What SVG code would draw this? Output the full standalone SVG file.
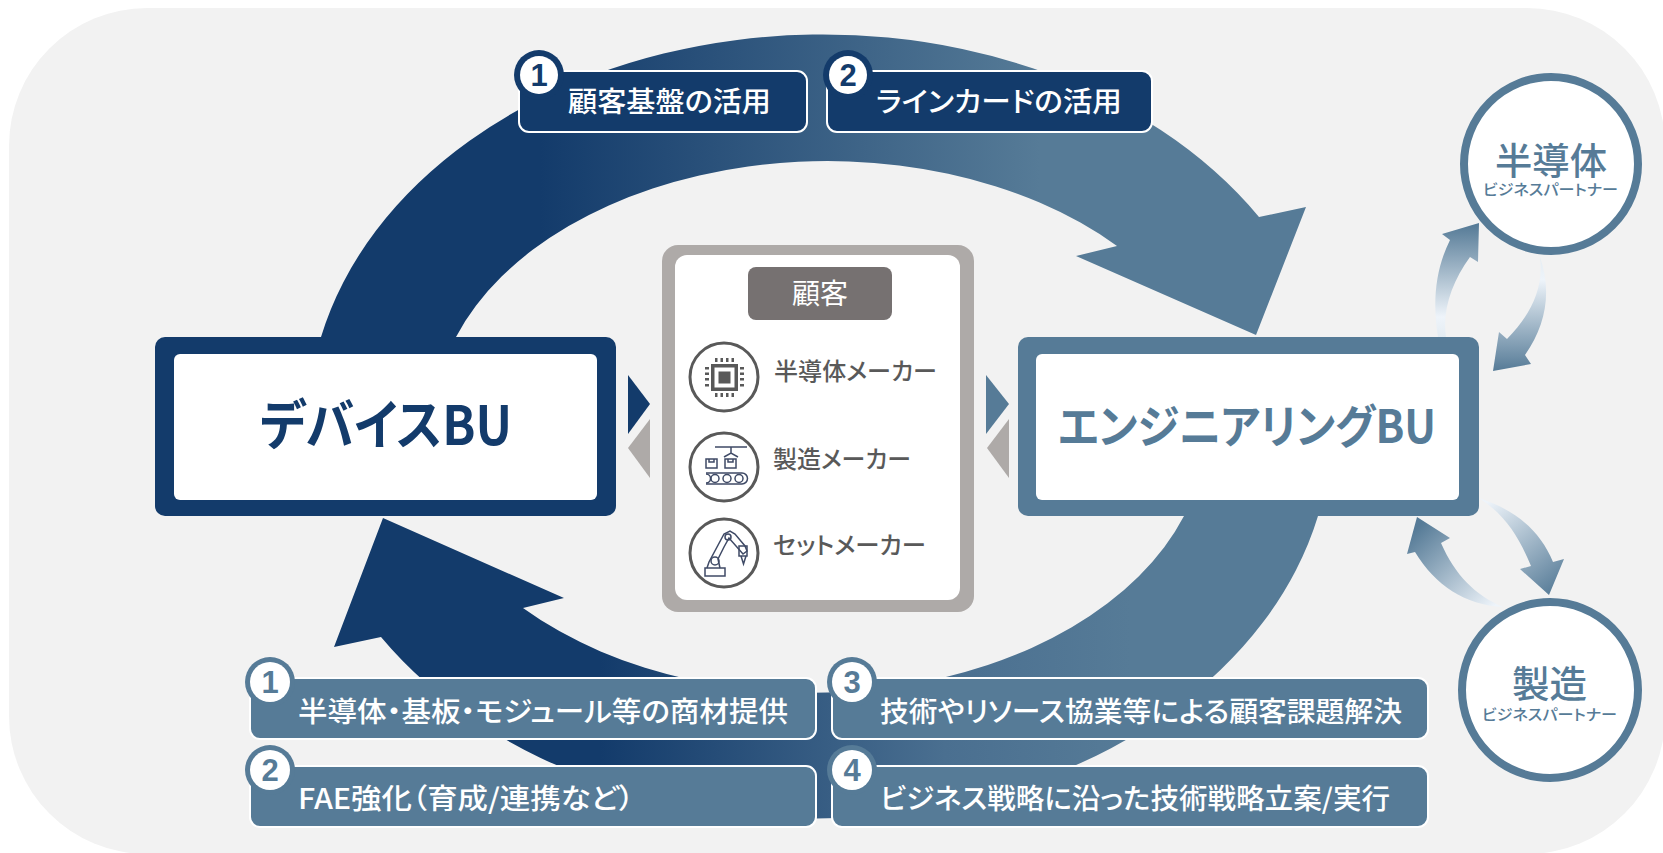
<svg xmlns="http://www.w3.org/2000/svg" width="1663" height="853" viewBox="0 0 1663 853">
<style>
text{font-family:"Noto Sans CJK JP","Noto Sans",sans-serif;font-feature-settings:"palt"}
.lab{font-size:28px;font-weight:500;fill:#fff}
.dig{font-size:31px;font-weight:700;text-anchor:middle;font-family:"Liberation Sans","Noto Sans",sans-serif}
.cust{font-size:24px;font-weight:500;fill:#595959}
.ring{fill:none;stroke:#595959;stroke-width:3}
.ico{fill:none;stroke:#3f4a66;stroke-width:1.5}
.dark{fill:#133b6b}
.steel{fill:#567b97}
.grey{fill:#aeaaa8}
.lb{stroke:#fff;stroke-width:2}
.title{font-weight:700}
.pn{font-weight:500;fill:#567b97}
</style>
<defs>
<linearGradient id="gTop" gradientUnits="userSpaceOnUse" x1="540" y1="0" x2="1040" y2="0"><stop offset="0" stop-color="#133b6b"/><stop offset="1" stop-color="#567b97"/></linearGradient>
<linearGradient id="gBot" gradientUnits="userSpaceOnUse" x1="600" y1="0" x2="1130" y2="0"><stop offset="0" stop-color="#133b6b"/><stop offset=".65" stop-color="#4a6f90"/><stop offset="1" stop-color="#567b97"/></linearGradient>
<linearGradient id="gA" gradientUnits="userSpaceOnUse" x1="0" y1="225" x2="0" y2="337"><stop offset="0" stop-color="#567b97"/><stop offset=".82" stop-color="#eef4fa"/><stop offset="1" stop-color="#e4ecf2"/></linearGradient>
<linearGradient id="gB" gradientUnits="userSpaceOnUse" x1="0" y1="371" x2="0" y2="257"><stop offset="0" stop-color="#567b97"/><stop offset=".8" stop-color="#eef4fa"/><stop offset="1" stop-color="#e4ecf2"/></linearGradient>
<linearGradient id="gC" gradientUnits="userSpaceOnUse" x1="1490" y1="500" x2="1560" y2="590"><stop offset="0" stop-color="#eef4fa"/><stop offset="1" stop-color="#567b97"/></linearGradient>
<linearGradient id="gD" gradientUnits="userSpaceOnUse" x1="1490" y1="610" x2="1415" y2="530"><stop offset="0" stop-color="#eef4fa"/><stop offset="1" stop-color="#567b97"/></linearGradient>
</defs>
<rect x="9" y="8" width="1656" height="846" rx="138" ry="138" fill="#f2f2f2"/>
<g id="connectors">
<path fill="url(#gTop)" d="M321 337A515 390 0 0 1 1259 217L1306 207L1256 335L1076 256L1117 246A394 264 0 0 0 456 337Z"/>
<path fill="url(#gBot)" d="M1318 516A515 390 0 0 1 381 637L334 647L383 518L564 598L523 608A394 264 0 0 0 1184 516Z"/>
<path fill="url(#gA)" d="M1438 337C1432 300 1436 268 1450 240L1442 234L1479 223L1478 262L1470 257C1452 282 1442 310 1446 337Z"/>
<path fill="url(#gB)" d="M1540 257C1552 292 1546 325 1525 355L1531 364L1493 371L1499 332L1507 339C1530 315 1544 290 1540 257Z"/>
<path fill="url(#gC)" d="M1479 498C1515 510 1540 530 1553 562L1564 559L1549 595L1520 569L1531 566C1518 535 1505 515 1479 498Z"/>
<path fill="url(#gD)" d="M1503 607C1465 605 1435 585 1415 552L1407 554L1417 517L1450 538L1441 543C1455 575 1475 595 1503 607Z"/>
<polygon class="dark" points="628,375 650,404 628,434"/>
<polygon class="grey" points="650,419 650,478 628,448"/>
<polygon class="steel" points="986,375 1009,404 986,434"/>
<polygon class="grey" points="1009,419 1009,478 987,448"/>
</g>
<g id="device-bu">
<rect class="dark" x="155" y="337" width="461" height="179" rx="10"/>
<rect x="174" y="354" width="423" height="146" rx="6" fill="#fff"/>
<text class="title" x="260" y="445" font-size="54" fill="#133b6b" textLength="252" lengthAdjust="spacingAndGlyphs">デバイスBU</text>
</g>
<g id="engineering-bu">
<rect class="steel" x="1018" y="337" width="461" height="179" rx="10"/>
<rect x="1036" y="354" width="423" height="146" rx="6" fill="#fff"/>
<text class="title" x="1058" y="443" font-size="46" fill="#567b97" textLength="378" lengthAdjust="spacingAndGlyphs">エンジニアリングBU</text>
</g>
<g id="customers">
<rect class="grey" x="662" y="245" width="312" height="367" rx="16"/>
<rect x="675" y="255" width="285" height="345" rx="12" fill="#fff"/>
<rect x="748" y="267" width="144" height="53" rx="8" fill="#767171"/>
<text x="820" y="304" font-size="28" fill="#fff" text-anchor="middle">顧客</text>
<circle class="ring" cx="724" cy="377" r="34"/>
<g fill="#595959">
<path fill-rule="evenodd" d="M711 364h27v27h-27zM714.500 367.500v20h20v-20z"/>
<rect x="718.500" y="371.500" width="12" height="12"/>
<path d="M715 358h2.500v4h-2.500zM720.500 358h2.500v4h-2.500zM726 358h2.500v4h-2.500zM731.500 358h2.500v4h-2.500zM715 393h2.500v4h-2.500zM720.500 393h2.500v4h-2.500zM726 393h2.500v4h-2.500zM731.500 393h2.500v4h-2.500zM705 367h4v2.500h-4zM705 372.500h4v2.500h-4zM705 378h4v2.500h-4zM705 384h4v2.500h-4zM740 367h4v2.500h-4zM740 372.500h4v2.500h-4zM740 378h4v2.500h-4zM740 384h4v2.500h-4z"/>
</g>
<text class="cust" x="774" y="380" textLength="163" lengthAdjust="spacingAndGlyphs">半導体メーカー</text>
<circle class="ring" cx="724" cy="467" r="34"/>
<g class="ico">
<path d="M715 447h32M731 447v6M724 457l7-4 7 4"/>
<rect x="706" y="459" width="11" height="9"/><rect x="725" y="459" width="11" height="9"/>
<path d="M709 459v3h5v-3M728 459v3h5v-3"/>
<path d="M706 473h36a5.500 5.500 0 0 1 0 11h-36"/>
<path d="M706 474a4 4 0 0 1 0 9"/>
<circle cx="715" cy="478.500" r="4"/><circle cx="727" cy="478.500" r="4"/><circle cx="739" cy="478.500" r="4"/>
</g>
<text class="cust" x="773" y="468" textLength="138" lengthAdjust="spacingAndGlyphs">製造メーカー</text>
<circle class="ring" cx="724" cy="553" r="34"/>
<g class="ico">
<rect x="705" y="568" width="20" height="8"/>
<path d="M707 568l2-6 15-28 6-3 5 3 10 12 2 5-4 3-14-16-5 9-6 12 2 9"/>
<circle cx="715" cy="561" r="4"/><circle cx="728" cy="537" r="3"/>
<path d="M739 546h8v10h-8zM741 556l2.500 8 2.500-8"/>
</g>
<text class="cust" x="773" y="554" textLength="153" lengthAdjust="spacingAndGlyphs">セットメーカー</text>
</g>
<g id="partner-semiconductor">
<circle cx="1551" cy="164" r="87" fill="#fff" stroke="#567b97" stroke-width="8"/>
<text class="pn" x="1495" y="175" font-size="37" textLength="112" lengthAdjust="spacingAndGlyphs">半導体</text>
<text class="pn" x="1483" y="195" font-size="15" textLength="135" lengthAdjust="spacingAndGlyphs">ビジネスパートナー</text>
</g>
<g id="partner-manufacturing">
<circle cx="1550" cy="690" r="88" fill="#fff" stroke="#567b97" stroke-width="8"/>
<text class="pn" x="1512" y="698" font-size="37" textLength="75" lengthAdjust="spacingAndGlyphs">製造</text>
<text class="pn" x="1482" y="720" font-size="15" textLength="135" lengthAdjust="spacingAndGlyphs">ビジネスパートナー</text>
</g>
<g id="label-top-1">
<rect class="dark lb" x="519" y="71" width="288" height="61" rx="10"/>
<circle class="dark" cx="539" cy="75" r="25"/><circle cx="539" cy="75" r="19" fill="#fff"/>
<text class="dig" x="539" y="86" fill="#133b6b">1</text>
<text class="lab" x="568" y="112" textLength="203" lengthAdjust="spacingAndGlyphs">顧客基盤の活用</text>
</g>
<g id="label-top-2">
<rect class="dark lb" x="827" y="71" width="325" height="61" rx="10"/>
<circle class="dark" cx="848" cy="75" r="25"/><circle cx="848" cy="75" r="19" fill="#fff"/>
<text class="dig" x="848" y="86" fill="#133b6b">2</text>
<text class="lab" x="876" y="112" textLength="246" lengthAdjust="spacingAndGlyphs">ラインカードの活用</text>
</g>
<g id="label-bottom-1">
<rect class="steel lb" x="250" y="678" width="566" height="61" rx="10"/>
<circle class="steel" cx="270" cy="682" r="25"/><circle cx="270" cy="682" r="20" fill="#fff"/>
<text class="dig" x="270" y="693" fill="#567b97">1</text>
<text class="lab" x="298" y="722" textLength="490" lengthAdjust="spacingAndGlyphs">半導体・基板・モジュール等の商材提供</text>
</g>
<g id="label-bottom-2">
<rect class="steel lb" x="250" y="766" width="566" height="61" rx="10"/>
<circle class="steel" cx="270" cy="770" r="25"/><circle cx="270" cy="770" r="20" fill="#fff"/>
<text class="dig" x="270" y="781" fill="#567b97">2</text>
<text class="lab" x="298" y="809" textLength="336" lengthAdjust="spacingAndGlyphs">FAE強化（育成/連携など）</text>
</g>
<g id="label-bottom-3">
<rect class="steel lb" x="832" y="678" width="596" height="61" rx="10"/>
<circle class="steel" cx="852" cy="682" r="25"/><circle cx="852" cy="682" r="20" fill="#fff"/>
<text class="dig" x="852" y="693" fill="#567b97">3</text>
<text class="lab" x="880" y="722" textLength="522" lengthAdjust="spacingAndGlyphs">技術やリソース協業等による顧客課題解決</text>
</g>
<g id="label-bottom-4">
<rect class="steel lb" x="832" y="766" width="596" height="61" rx="10"/>
<circle class="steel" cx="852" cy="770" r="25"/><circle cx="852" cy="770" r="20" fill="#fff"/>
<text class="dig" x="852" y="781" fill="#567b97">4</text>
<text class="lab" x="880" y="809" textLength="510" lengthAdjust="spacingAndGlyphs">ビジネス戦略に沿った技術戦略立案/実行</text>
</g>
</svg>
